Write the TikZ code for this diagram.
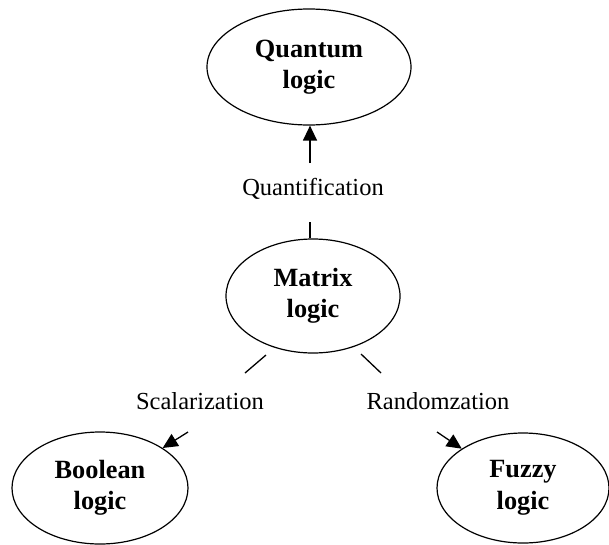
\documentclass[tikz,border=0pt]{standalone}
\usepackage{fontspec}
\setmainfont{Liberation Serif}
\usetikzlibrary{shapes.geometric,arrows.meta}
\begin{document}
\begin{tikzpicture}[x=1pt,y=-1pt,
  logicnode/.style={draw,ellipse,line width=1.2pt,inner sep=0pt,align=center,
    font=\fontsize{26.3}{31.5}\selectfont\bfseries},
  conn/.style={line width=1.3pt},
  arr/.style={line width=1.3pt,-{Triangle[length=15pt,width=14pt]}},
  lbl/.style={font=\fontsize{24.5}{28}\selectfont,inner sep=0pt}]
\useasboundingbox (0,0) rectangle (609,544);
\node[logicnode,minimum width=204pt,minimum height=116pt] (quantum) at (309,67) {Quantum\\logic};
\node[logicnode,minimum width=174pt,minimum height=114pt] (matrix) at (313,296) {Matrix\\logic};
\node[logicnode,minimum width=176pt,minimum height=112pt] (boolean) at (100,488) {Boolean\\logic};
\node[logicnode,minimum width=172pt,minimum height=110pt] (fuzzy) at (523,488) {Fuzzy\\logic};
\node[lbl] (quant) at (313,189) {Quantification};
\node[lbl] (scal) at (200,401) {Scalarization};
\node[lbl] (rand) at (438,401) {Randomzation};
\coordinate (q1) at (310,222);
\coordinate (q2) at (310,163);
\coordinate (s1) at (266,355);
\coordinate (s2) at (245,373);
\coordinate (s3) at (188,432);
\coordinate (r1) at (361,354);
\coordinate (r2) at (381,373);
\coordinate (r3) at (437,432);
\draw[conn] (matrix.north -| q1) -- (q1);
\draw[arr] (q2) -- (quantum.south -| q2);
\draw[conn] (s1) -- (s2);
\draw[arr] (s3) -- (boolean.north east);
\draw[conn] (r1) -- (r2);
\draw[arr] (r3) -- (fuzzy.north west);
\end{tikzpicture}
\end{document}
